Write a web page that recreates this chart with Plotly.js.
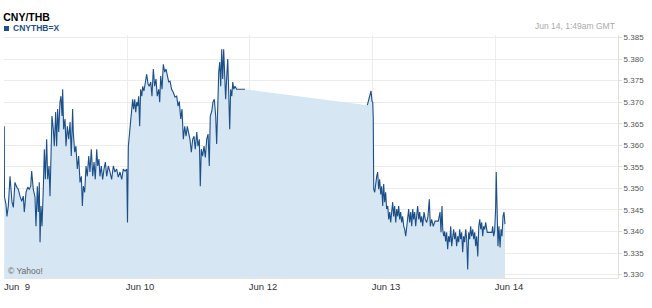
<!DOCTYPE html>
<html>
<head>
<meta charset="utf-8">
<script src="https://cdn.plot.ly/plotly-3.0.1.min.js"></script>
<style>html,body{margin:0;padding:0;background:#fff;}#chart{width:652px;height:308px;}</style>
</head>
<body>
<div id="chart"></div>
<script>
// Trading-session index: 0 = Jun 9, 1 = Jun 10, 2 = Jun 12, 3 = Jun 13, 4 = Jun 14
var tickPositions = [0, 1, 2, 3, 4];
var tickLabels = ["Jun\u00a0\u00a09", "Jun 10", "Jun 12", "Jun 13", "Jun 14"];

// First stretch of quotes (Jun 9 – Jun 10)
var timeA = [
 0.002,0.004,0.016,0.024,0.035,0.049,0.057,0.065,0.076,0.089,
 0.103,0.116,0.130,0.144,0.157,0.165,0.179,0.193,0.206,0.217,
 0.225,0.238,0.252,0.260,0.271,0.279,0.287,0.293,0.301,0.309,
 0.320,0.328,0.336,0.347,0.355,0.366,0.374,0.382,0.390,0.401,
 0.409,0.420,0.428,0.436,0.445,0.455,0.463,0.472,0.477,0.485,
 0.496,0.504,0.515,0.526,0.537,0.547,0.558,0.563,0.575,0.585,
 0.596,0.607,0.618,0.629,0.637,0.645,0.656,0.667,0.677,0.689,
 0.699,0.710,0.721,0.732,0.742,0.754,0.762,0.772,0.780,0.791,
 0.802,0.813,0.824,0.835,0.848,0.862,0.875,0.889,0.902,0.916,
 0.929,0.943,0.957,0.970,0.984,0.998,1.004,1.011,1.019,1.027,
 1.038,1.046,1.054,1.063,1.071,1.079,1.087,1.095,1.103,1.111,
 1.120,1.128,1.138,1.149,1.160,1.171,1.181,1.193,1.203,1.214,
 1.225,1.236,1.246,1.258,1.266,1.274,1.285,1.295,1.307,1.317,
 1.328,1.339,1.350,1.363,1.376,1.390,1.404,1.415,1.425,1.437,
 1.447,1.458,1.469,1.480,1.490,1.502,1.512,1.523,1.534,1.545,
 1.555,1.567,1.577,1.588,1.596,1.604,1.615,1.626,1.637,1.648,
 1.659,1.669,1.677,1.689,1.699,1.710,1.721,1.729,1.737,1.746,
 1.754,1.762,1.770,1.778,1.786,1.794,1.802,1.811,1.819,1.827,
 1.835,1.843,1.852,1.860,1.868,1.878,1.892,1.919,1.959
];
var rateA = [
 5.3644,5.3480,5.3463,5.3435,5.3459,5.3528,5.3498,5.3468,5.3456,5.3514,
 5.3503,5.3498,5.3482,5.3470,5.3482,5.3445,5.3491,5.3503,5.3498,5.3505,
 5.3540,5.3498,5.3480,5.3412,5.3505,5.3445,5.3514,5.3375,5.3459,5.3412,
 5.3505,5.3591,5.3521,5.3614,5.3521,5.3552,5.3482,5.3584,5.3668,5.3637,
 5.3598,5.3677,5.3598,5.3684,5.3631,5.3700,5.3714,5.3668,5.3730,5.3637,
 5.3661,5.3598,5.3644,5.3614,5.3654,5.3575,5.3684,5.3631,5.3584,5.3598,
 5.3545,5.3575,5.3514,5.3528,5.3459,5.3505,5.3491,5.3552,5.3528,5.3575,
 5.3538,5.3591,5.3528,5.3561,5.3521,5.3591,5.3552,5.3568,5.3528,5.3552,
 5.3521,5.3545,5.3561,5.3528,5.3552,5.3538,5.3521,5.3552,5.3538,5.3545,
 5.3526,5.3538,5.3521,5.3545,5.3540,5.3545,5.3421,5.3598,5.3621,5.3654,
 5.3691,5.3707,5.3684,5.3707,5.3677,5.3700,5.3691,5.3714,5.3644,5.3730,
 5.3714,5.3737,5.3726,5.3747,5.3765,5.3742,5.3737,5.3747,5.3714,5.3777,
 5.3737,5.3754,5.3714,5.3730,5.3700,5.3761,5.3730,5.3788,5.3770,5.3777,
 5.3761,5.3747,5.3749,5.3730,5.3723,5.3712,5.3714,5.3691,5.3702,5.3661,
 5.3684,5.3614,5.3644,5.3621,5.3644,5.3631,5.3614,5.3584,5.3614,5.3621,
 5.3591,5.3631,5.3598,5.3614,5.3505,5.3591,5.3575,5.3598,5.3572,5.3614,
 5.3626,5.3552,5.3668,5.3679,5.3700,5.3707,5.3668,5.3603,5.3700,5.3770,
 5.3793,5.3737,5.3823,5.3754,5.3823,5.3777,5.3707,5.3761,5.3800,5.3723,
 5.3637,5.3730,5.3714,5.3747,5.3730,5.3737,5.3730,5.3730,5.3730
];

// Second stretch of quotes (Jun 13 – Jun 14)
var timeB = [
 2.954,2.962,2.970,2.978,2.984,2.992,2.998,3.002,3.006,3.014,
 3.022,3.030,3.038,3.046,3.054,3.063,3.071,3.079,3.087,3.095,
 3.103,3.111,3.120,3.128,3.136,3.144,3.152,3.160,3.168,3.176,
 3.185,3.193,3.201,3.209,3.217,3.225,3.233,3.241,3.250,3.258,
 3.266,3.274,3.282,3.290,3.298,3.307,3.315,3.323,3.331,3.339,
 3.347,3.355,3.363,3.372,3.380,3.388,3.396,3.404,3.415,3.425,
 3.437,3.447,3.458,3.466,3.477,3.490,3.504,3.518,3.531,3.545,
 3.553,3.561,3.567,3.575,3.583,3.591,3.599,3.607,3.615,3.624,
 3.632,3.640,3.648,3.656,3.664,3.672,3.680,3.689,3.697,3.705,
 3.713,3.721,3.729,3.737,3.745,3.754,3.762,3.770,3.778,3.786,
 3.794,3.802,3.811,3.819,3.827,3.835,3.843,3.852,3.860,3.868,
 3.876,3.884,3.892,3.900,3.908,3.916,3.929,3.943,3.957,3.967,
 3.973,3.981,3.989,3.997,4.002,4.008,4.016,4.024,4.033,4.041,
 4.049,4.057,4.065,4.073
];
var rateB = [
 5.3693,5.3702,5.3707,5.3719,5.3726,5.3702,5.3700,5.3665,5.3498,5.3491,
 5.3514,5.3528,5.3538,5.3498,5.3521,5.3486,5.3505,5.3459,5.3510,5.3468,
 5.3491,5.3452,5.3459,5.3428,5.3445,5.3421,5.3445,5.3468,5.3435,5.3459,
 5.3421,5.3452,5.3435,5.3459,5.3428,5.3445,5.3421,5.3435,5.3412,5.3405,
 5.3389,5.3412,5.3428,5.3452,5.3421,5.3445,5.3412,5.3452,5.3428,5.3445,
 5.3412,5.3435,5.3459,5.3428,5.3445,5.3421,5.3435,5.3412,5.3445,5.3428,
 5.3421,5.3435,5.3475,5.3412,5.3428,5.3412,5.3424,5.3424,5.3424,5.3445,
 5.3398,5.3459,5.3405,5.3389,5.3400,5.3377,5.3398,5.3359,5.3389,5.3375,
 5.3412,5.3366,5.3389,5.3405,5.3382,5.3398,5.3366,5.3389,5.3375,5.3405,
 5.3382,5.3398,5.3352,5.3389,5.3375,5.3405,5.3382,5.3312,5.3398,5.3382,
 5.3412,5.3389,5.3405,5.3382,5.3398,5.3366,5.3389,5.3342,5.3412,5.3428,
 5.3405,5.3421,5.3389,5.3412,5.3405,5.3421,5.3398,5.3398,5.3398,5.3398,
 5.3412,5.3389,5.3400,5.3452,5.3538,5.3452,5.3366,5.3412,5.3363,5.3405,
 5.3389,5.3435,5.3445,5.3417
];

var yTicks = [5.330, 5.335, 5.340, 5.345, 5.350, 5.355, 5.360, 5.365, 5.370, 5.375, 5.380, 5.385];

var FONT = "Liberation Sans, Arial, sans-serif";
var LINE = "#1b4f8a";

var fillTrace = {
  x: timeA.concat(timeB),
  y: rateA.concat(rateB),
  type: "scatter", mode: "lines",
  line: {width: 0, color: "rgba(0,0,0,0)"},
  fill: "tozeroy", fillcolor: "#d6e6f2",
  hoverinfo: "skip", showlegend: false
};
var lineTrace = {
  x: timeA.concat([null], timeB),
  y: rateA.concat([null], rateB),
  type: "scatter", mode: "lines",
  line: {width: 1.1, color: LINE},
  connectgaps: false,
  name: "CNYTHB=X", showlegend: false
};

var layout = {
  width: 652, height: 308,
  margin: {l: 4, r: 34, t: 35, b: 30, pad: 0},
  paper_bgcolor: "#fff", plot_bgcolor: "#fff",
  showlegend: false,
  font: {family: FONT, size: 9, color: "#444"},
  title: {
    text: "<b>CNY/THB</b>",
    font: {family: FONT, size: 10.5, color: "#000"},
    xref: "container", yref: "container",
    x: 0.005, xanchor: "left", y: 0.945, yanchor: "middle"
  },
  xaxis: {
    range: [0, 4.992],
    tickmode: "array", tickvals: tickPositions, ticktext: tickLabels,
    ticks: "", ticklabelshift: 13, ticklabelstandoff: 0,
    tickfont: {family: FONT, size: 9.5, color: "#333"},
    showgrid: true, gridcolor: "#ececec", gridwidth: 1,
    zeroline: false, showline: true, linecolor: "#e4e4e4", linewidth: 1,
    fixedrange: true
  },
  yaxis: {
    side: "right",
    range: [5.3292, 5.3856],
    tickmode: "array", tickvals: yTicks,
    tickformat: ".3f",
    ticks: "outside", ticklen: 3, tickcolor: "#ddd",
    tickfont: {family: FONT, size: 8, color: "#555"},
    showgrid: true, gridcolor: "#ececec", gridwidth: 1,
    zeroline: false, showline: true, linecolor: "#e0e0e0", linewidth: 1,
    mirror: false, fixedrange: true
  },
  shapes: [{
    type: "rect", xref: "paper", yref: "paper",
    xsizemode: "pixel", ysizemode: "pixel",
    xanchor: 0, yanchor: 1,
    x0: 0, x1: 5, y0: 4, y1: 9,
    fillcolor: LINE, line: {width: 0}
  }],
  annotations: [
    {text: "<b>CNYTHB=X</b>", xref: "paper", yref: "paper", x: 0, y: 1,
     xanchor: "left", yanchor: "middle", xshift: 7, yshift: 7, showarrow: false,
     font: {family: FONT, size: 8.5, color: LINE}},
    {text: "Jun 14, 1:49am GMT", xref: "paper", yref: "paper", x: 1, y: 1,
     xanchor: "right", yanchor: "middle", xshift: -1, yshift: 9, showarrow: false,
     font: {family: FONT, size: 8.5, color: "#aaa"}},
    {text: "\u00a9 Yahoo!", xref: "paper", yref: "paper", x: 0, y: 0,
     xanchor: "left", yanchor: "middle", xshift: 2, yshift: 7, showarrow: false,
     font: {family: FONT, size: 8.5, color: "#666"}}
  ]
};

Plotly.newPlot("chart", [fillTrace, lineTrace], layout, {staticPlot: true, displayModeBar: false});
</script>
</body>
</html>
